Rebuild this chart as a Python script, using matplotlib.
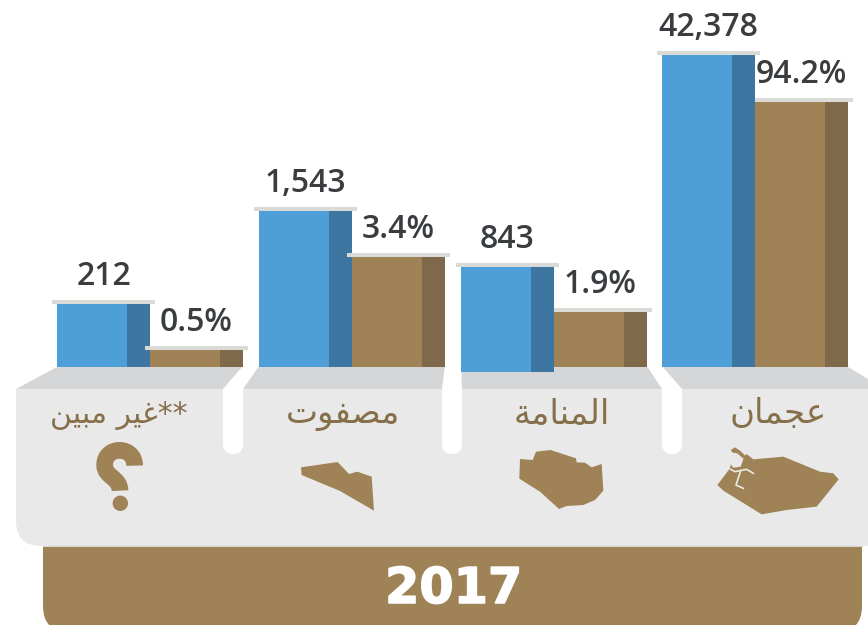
import numpy as np
import matplotlib
matplotlib.use("Agg")
import matplotlib.pyplot as plt
import matplotlib.patheffects as pe
from matplotlib.patches import PathPatch, Polygon, Circle
from matplotlib.path import Path
from matplotlib.transforms import offset_copy

# ---------- data ----------
regions = ["**غير مبين", "مصفوت", "المنامة", "عجمان"]
counts = [212, 1543, 843, 42378]
shares = [0.5, 3.4, 1.9, 94.2]
year = "2017"

# the source's bars follow a decorative scale: value -> drawn height
count_scale_values = [-100, 0, 212, 843, 1543, 42378, 60000]
count_scale_heights = [-5, 0, 63, 100, 156, 312, 367]
share_scale_values = [0, 0.5, 1.9, 3.4, 94.2, 130]
share_scale_heights = [0, 17, 55, 110, 265, 367]

# ---------- style ----------
W, H = 868, 625
BASE = 367
group_left = [57, 259, 460.5, 662]
FACE_W, SIDE_W = 70, 23
count_floor = [0, 0, -100, 0]
share_cap_trim = [0, 0, 5, 5]
label_sizes = [21.5, 24.5, 24.5, 24.5]
BLUE, BLUE_D = "#4E9FD8", "#3D76A0"
GOLD, GOLD_D = "#9F8357", "#80694A"
CAP = "#DADAD7"
INK = "#3A3D40"
LABEL = "#86704B"
SHADE, BODY = "#D5D6D7", "#E9E9E9"

FORMS = {  # isolated, final, initial, medial
    "ا": "\uFE8D\uFE8E", "ة": "\uFE93\uFE94", "ر": "\uFEAD\uFEAE", "و": "\uFEED\uFEEE",
    "ل": "\uFEDD\uFEDE\uFEDF\uFEE0", "م": "\uFEE1\uFEE2\uFEE3\uFEE4",
    "ن": "\uFEE5\uFEE6\uFEE7\uFEE8", "غ": "\uFECD\uFECE\uFECF\uFED0",
    "ي": "\uFEF1\uFEF2\uFEF3\uFEF4", "ب": "\uFE8F\uFE90\uFE91\uFE92",
    "ص": "\uFEB9\uFEBA\uFEBB\uFEBC", "ف": "\uFED1\uFED2\uFED3\uFED4",
    "ت": "\uFE95\uFE96\uFE97\uFE98", "ع": "\uFEC9\uFECA\uFECB\uFECC",
    "ج": "\uFE9D\uFE9E\uFE9F\uFEA0",
}


def shape(text):
    """Contextual forms + visual order, since matplotlib does no Arabic shaping."""
    out = []
    for i, c in enumerate(text):
        if c not in FORMS:
            out.append(c)
            continue
        prev = text[i - 1] if i else ""
        nxt = text[i + 1] if i + 1 < len(text) else ""
        from_prev = prev in FORMS and len(FORMS[prev]) == 4
        to_next = nxt in FORMS and len(FORMS[c]) == 4
        idx = {(0, 0): 0, (1, 0): 1, (0, 1): 2, (1, 1): 3}[(int(from_prev), int(to_next))]
        out.append(FORMS[c][idx])
    return "".join(reversed(out))


def rounded(points, radii):
    verts, codes = [], []
    n = len(points)
    for i, (p, r) in enumerate(zip(points, radii)):
        p = np.array(p, float)
        if r == 0:
            verts.append(p)
            codes.append(Path.MOVETO if i == 0 else Path.LINETO)
            continue
        a = np.array(points[i - 1], float)
        b = np.array(points[(i + 1) % n], float)
        s = p + (a - p) / np.linalg.norm(a - p) * r
        e = p + (b - p) / np.linalg.norm(b - p) * r
        verts += [s, p, e]
        codes += [Path.MOVETO if i == 0 else Path.LINETO, Path.CURVE3, Path.CURVE3]
    verts.append(verts[0])
    codes.append(Path.CLOSEPOLY)
    return Path(verts, codes)


fig = plt.figure(figsize=(W / 100, H / 100), dpi=100, facecolor="white")
bg = fig.add_axes([0, 0, 1, 1])
bg.set_xlim(0, W)
bg.set_ylim(H, 0)
bg.axis("off")

# gold year band and platform
bg.add_patch(PathPatch(rounded([(43, 530), (862, 530), (862, 632), (43, 632)], [0, 0, 26, 26]),
                       fc=GOLD, ec="none", zorder=1))
bg.add_patch(PathPatch(rounded([(16, 389), (16, 546), (880, 546), (880, 389)], [0, 25, 0, 0]),
                       fc=BODY, ec="none", zorder=2))
bg.add_patch(Polygon([(57, BASE), (848, BASE), (868, 379), (868, 389), (16, 389)],
                     fc=SHADE, ec="none", zorder=2))
bg.plot([43, 862], [546, 546], color="#D8D3C8", lw=0.8, zorder=3)
for top_l, top_r, lo_l, lo_r in [(243, 259, 223, 243), (445, 461, 442, 462), (647, 662, 662, 682)]:
    bg.add_patch(Polygon([(top_l, BASE - 1), (top_r, BASE - 1), (lo_r, 389), (lo_l, 389)],
                         fc="white", ec="none", zorder=4))
    bg.add_patch(PathPatch(rounded([(lo_l, 389), (lo_r, 389), (lo_r, 454), (lo_l, 454)], [0, 0, 10, 10]),
                           fc="white", ec="none", zorder=4))

# region names
centres = [119, 343, 562, 778]
for name, cx, fs in zip(regions, centres, label_sizes):
    bg.text(cx, 423, shape(name), ha="center", va="baseline", fontsize=fs,
            color=LABEL, family="DejaVu Sans", zorder=5)


# icons (decoration)
def icon(zoom_pts, ox, oy):
    return [(ox + x / 3, oy + y / 3) for x, y in zoom_pts]


q_verts = icon([(404, 317), (404, 256), (314, 256), (314, 315), (314, 352), (360, 352), (360, 392)], 0, 360)
q_codes = [Path.MOVETO] + [Path.CURVE4] * 6
bg.add_patch(PathPatch(Path(q_verts, q_codes), fc="none", ec=GOLD, lw=12, capstyle="butt", zorder=5))
bg.add_patch(Circle((120.3, 503.3), 7.7, fc=GOLD, ec="none", zorder=5))

must = [(903, 322), (1013, 306), (1047, 342), (1072, 335), (1115, 350), (1122, 452), (1020, 393), (905, 345)]
bg.add_patch(Polygon(icon(must, 0, 360), fc=GOLD, ec="none", zorder=5))
mana = [(30, 57), (68, 60), (78, 35), (122, 30), (198, 55), (200, 67), (225, 68), (245, 82), (275, 72),
        (280, 152), (255, 180), (220, 195), (170, 198), (147, 207), (90, 155), (28, 116)]
bg.add_patch(Polygon(icon(mana, 510, 440), fc=GOLD, ec="none", zorder=5))
ajman = [(52, 135), (90, 85), (92, 73), (100, 83), (122, 80), (132, 52), (140, 42), (160, 58), (250, 50),
         (360, 95), (400, 100), (416, 118), (350, 200), (260, 210), (185, 223), (70, 152)]
bg.add_patch(Polygon(icon(ajman, 700, 440), fc=GOLD, ec="none", zorder=5))
islet = [(92, 30), (105, 22), (120, 32), (137, 48), (130, 56), (112, 40), (98, 38)]
bg.add_patch(Polygon(icon(islet, 700, 440), fc=GOLD, ec="none", zorder=5))
for line in ([(92, 88), (105, 95), (140, 88), (160, 100)],
             [(122, 92), (108, 135), (130, 145)]):
    pts = np.array(icon(line, 700, 440))
    bg.plot(pts[:, 0], pts[:, 1], color=BODY, lw=1.2, zorder=6)

bg.text(453.5, 603, year, ha="center", va="baseline", fontsize=35.5, fontweight="bold",
        color="white", family="DejaVu Sans", zorder=5,
        path_effects=[pe.withStroke(linewidth=1.1, foreground="white")])


# ---------- bars through their own scales ----------
def scaled_axes(values, heights):
    ax = fig.add_axes([0, (H - BASE) / H, 1, BASE / H], facecolor="none")
    ax.set_yscale("function", functions=(lambda v: np.interp(v, values, heights),
                                         lambda h: np.interp(h, heights, values)))
    ax.set_xlim(0, W)
    ax.set_ylim(0, values[-1])
    ax.axis("off")
    return ax


ax_c = scaled_axes(count_scale_values, count_scale_heights)
ax_s = scaled_axes(share_scale_values, share_scale_heights)


def draw(ax, lefts, vals, floors, texts, trims, face, side):
    lefts = np.array(lefts, float)
    vals = np.array(vals, float)
    floors = np.array(floors, float)
    ax.bar(lefts, vals - floors, FACE_W, bottom=floors, align="edge", color=face, clip_on=False)
    ax.bar(lefts + FACE_W, vals - floors, SIDE_W, bottom=floors, align="edge", color=side, clip_on=False)
    cap_tr = offset_copy(ax.transData, fig=fig, y=2, units="dots")
    total = FACE_W + SIDE_W
    ax.hlines(vals, lefts - 5 + np.array(trims), lefts + total + 5, colors=CAP, lw=4 * 0.72,
              transform=cap_tr, capstyle="butt", clip_on=False, zorder=4)
    for x, v, t in zip(lefts + total / 2, vals, texts):
        ax.annotate(t, (x, v), xytext=(0, 13.6), textcoords="offset points", ha="center", va="baseline",
                    fontsize=23, fontweight="semibold", color=INK, family="Open Sans",
                    annotation_clip=False, zorder=6)


draw(ax_c, group_left, counts, count_floor, [f"{c:,}" for c in counts], [0] * 4, BLUE, BLUE_D)
draw(ax_s, [x + FACE_W + SIDE_W for x in group_left], shares, [0] * 4,
     [f"{s}%" for s in shares], share_cap_trim, GOLD, GOLD_D)

fig.savefig("out.png", dpi=100, facecolor="white")
